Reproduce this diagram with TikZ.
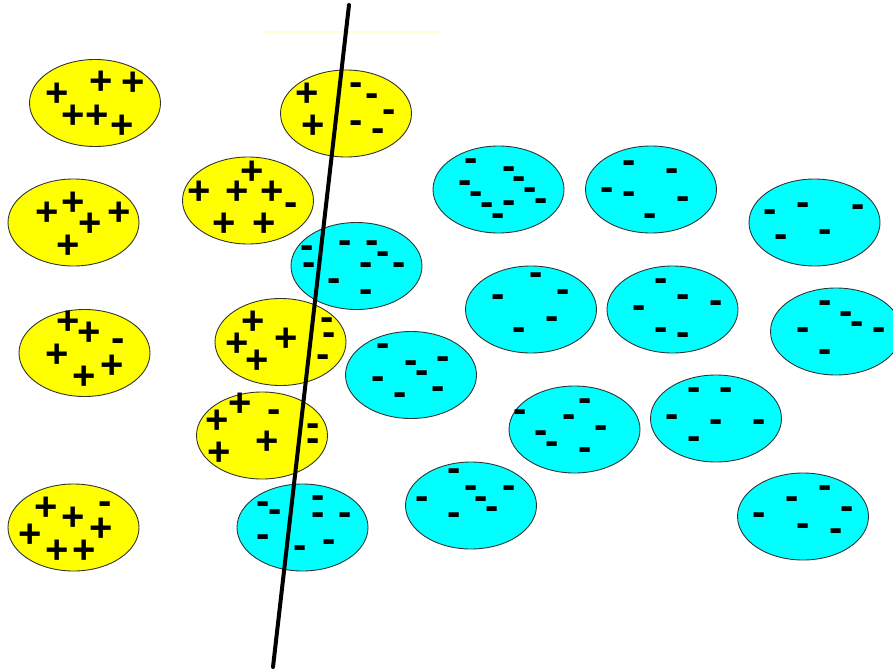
\documentclass[tikz,border=0pt]{standalone}
\usepackage{fontspec}
\newfontfamily\chargefont{Liberation Sans}
\usetikzlibrary{shapes}
\definecolor{cellyellow}{RGB}{255,255,0}
\definecolor{cellcyan}{RGB}{0,255,255}

\begin{document}
\begin{tikzpicture}[
			x=1pt, y=-1pt,
			cell/.style={ellipse, draw=black!80, line width=0.9pt, minimum width=131pt, minimum height=87pt, inner sep=0pt},
			yellowcell/.style={cell, fill=cellyellow},
			cyancell/.style={cell, fill=cellcyan},
			charge/.style={inner sep=0pt, font=\chargefont\bfseries\fontsize{40}{40}\selectfont},
			poscharge/.style={charge},
			negcharge/.style={charge},
			cutline/.style={line width=4pt, line cap=round},
			guide/.style={draw=cellyellow!18, line width=1.5pt}
			]
			
			\clip (0,0) rectangle (893,671);
			
			\coordinate (guideleft) at (264,32);
			\coordinate (guideright) at (439,32);
			\draw[guide] (guideleft) -- (guideright);
			
			\node[yellowcell] (ycell1) at (95,103) {};
			\node[yellowcell] (ycell2) at (73.5,222.5) {};
			\node[yellowcell] (ycell3) at (346,113.5) {};
			\node[yellowcell] (ycell4) at (248,200.5) {};
			\node[yellowcell] (ycell5) at (84.5,353) {};
			\node[yellowcell] (ycell6) at (280.5,342) {};
			\node[yellowcell] (ycell7) at (262,435.5) {};
			\node[yellowcell] (ycell8) at (73.5,527.5) {};
			
			\node[cyancell] (ccell1) at (356.5,266) {};
			\node[cyancell] (ccell2) at (302.5,527.5) {};
			\node[cyancell] (ccell3) at (411,375) {};
			\node[cyancell] (ccell4) at (498.5,189.5) {};
			\node[cyancell] (ccell5) at (651,189.5) {};
			\node[cyancell] (ccell6) at (814.5,222.5) {};
			\node[cyancell] (ccell7) at (531,309.5) {};
			\node[cyancell] (ccell8) at (672.5,309.5) {};
			\node[cyancell] (ccell9) at (836,331.5) {};
			\node[cyancell] (ccell10) at (574.5,429.5) {};
			\node[cyancell] (ccell11) at (716,418.5) {};
			\node[cyancell] (ccell12) at (471,505.5) {};
			\node[cyancell] (ccell13) at (803,516.5) {};
			
			\foreach \x/\y in {57/95, 101/83, 133/84, 73/117, 97/117, 122/127,
				47/214, 73/204, 90/225, 119/214, 68/247,
				307/95, 313/127,
				252/173, 199/193, 237/193, 272/193, 224/225, 264/225,
				68/323, 89/334, 57/356, 112/367, 84/378,
				253/323, 237/345, 286/340, 257/362,
				240/405, 217/422, 267/443, 219/454,
				46/509, 73/519, 101/530, 30/536, 57/552, 84/552}
				\node[poscharge] at (\x,\y) {+};
			
			\foreach \x/\y in {356/89, 372/100, 389/116, 356/127, 378/135,
				291/209, 118/345, 327/324, 329/339, 323/361,
				274/416, 313/430, 313/445, 105/508}
				\node[negcharge] at (\x,\y) {-};
			
			\foreach \x/\y in {307/252, 345/247, 372/247, 383/258, 309/269, 366/269, 399/269, 334/285, 366/296,
				263/508, 275/516, 318/502, 318/519, 345/519, 263/541, 300/552, 329/546,
				383/350, 411/367, 443/363, 422/377, 378/383, 438/393, 400/399,
				471/165, 509/173, 465/187, 519/183, 476/198, 530/194, 487/209, 509/207, 541/205, 498/220,
				629/167, 672/175, 607/194, 629/198, 683/203, 650/220,
				803/209, 858/211, 770/216, 825/236, 781/241,
				536/279, 498/301, 563/296, 552/323, 519/334,
				661/285, 683/301, 716/307, 639/312, 661/334, 683/339,
				825/307, 846/318, 857/328, 803/334, 879/334, 825/356,
				585/405, 520/416, 569/421, 601/432, 541/437, 552/448, 585/454,
				694/394, 726/394, 672/421, 716/426, 759/426, 694/443,
				454/475, 471/492, 509/492, 422/503, 481/503, 492/513, 454/519,
				825/492, 792/503, 847/513, 759/519, 803/530, 836/535}
				\node[negcharge] at (\x,\y) {-};
			
			\coordinate (cuttop) at (349,5);
			\coordinate (cutbottom) at (273,667);
			\draw[cutline] (cuttop) -- (cutbottom);
		\end{tikzpicture}
\end{document}
